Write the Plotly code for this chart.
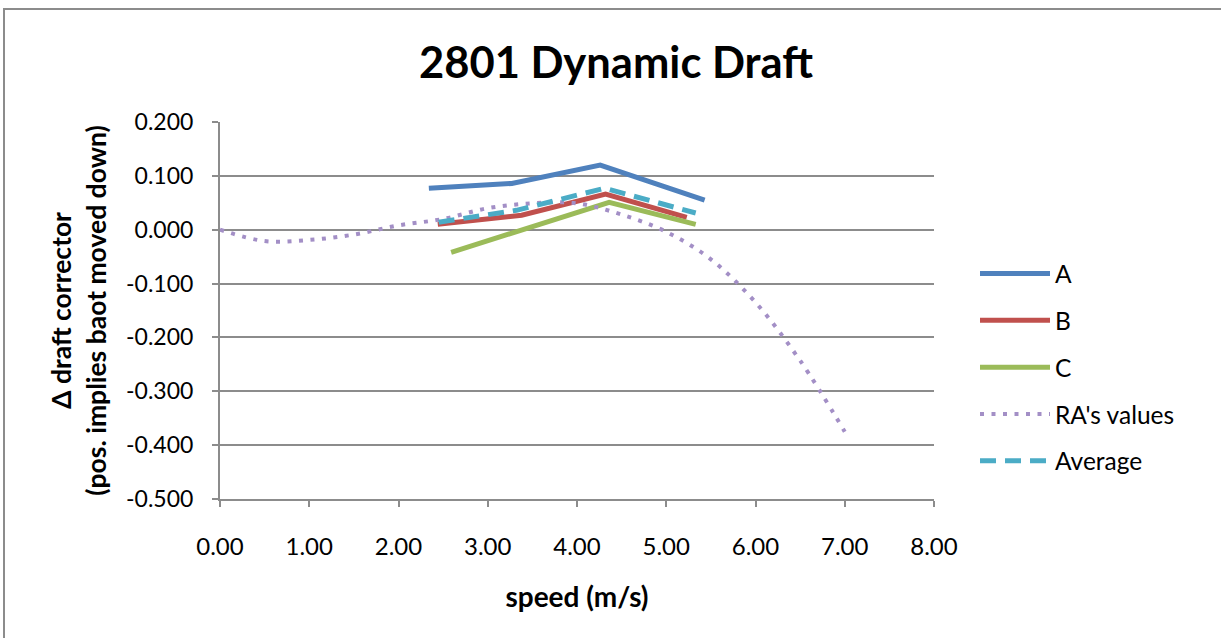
import plotly.graph_objects as go

# ---- data ----
speed_A = [2.34, 3.27, 4.26, 5.43]
val_A = [0.077, 0.086, 0.120, 0.055]

speed_B = [2.44, 3.38, 4.32, 5.23]
val_B = [0.010, 0.027, 0.066, 0.023]

speed_C = [2.59, 3.31, 4.36, 5.33]
val_C = [-0.042, -0.005, 0.051, 0.010]

speed_RA = [0.0, 0.5, 1.0, 1.5, 2.0, 2.5, 3.0, 3.5, 4.0, 4.5, 5.0, 5.5, 6.0, 6.5, 7.0]
val_RA = [0.000, -0.021, -0.019, -0.009, 0.008, 0.020, 0.040, 0.049, 0.049, 0.028,
          -0.004, -0.055, -0.135, -0.243, -0.375]

speed_avg = [2.45, 3.32, 4.31, 5.33]
val_avg = [0.014, 0.036, 0.077, 0.031]

x_ticks = [0, 1, 2, 3, 4, 5, 6, 7, 8]
y_ticks = [0.2, 0.1, 0.0, -0.1, -0.2, -0.3, -0.4, -0.5]

FONT = "Lato"

fig = go.Figure()
fig.add_trace(go.Scatter(x=speed_A, y=val_A, mode="lines", name="A",
                         line=dict(color="#4F81BD", width=5), legendgroup="a"))
fig.add_trace(go.Scatter(x=speed_B, y=val_B, mode="lines", name="B",
                         line=dict(color="#C0504D", width=5), legendgroup="b"))
fig.add_trace(go.Scatter(x=speed_C, y=val_C, mode="lines", name="C",
                         line=dict(color="#9BBB59", width=5), legendgroup="c"))
fig.add_trace(go.Scatter(x=speed_RA, y=val_RA, mode="lines", name="RA's values",
                         line=dict(color="#A38FC6", width=4, dash="4px,7.5px", shape="spline"),
                         legendgroup="d"))
fig.add_trace(go.Scatter(x=speed_avg, y=val_avg, mode="lines", name="Average",
                         line=dict(color="#4BACC6", width=5, dash="16px,9px"), legendgroup="e"))

W, H = 1221, 638
L, R, T, B = 220, 287, 122, 139
pw, ph = W - L - R, H - T - B

def px(xp):
    return (xp - L) / pw

def py(yp):
    return (H - B - yp) / ph

fig.update_layout(
    width=W, height=H,
    margin=dict(l=L, r=R, t=T, b=B, autoexpand=False),
    paper_bgcolor="white", plot_bgcolor="white",
    font=dict(family=FONT, color="black", size=22),
    title=dict(text="<b>2801 Dynamic Draft</b>", x=(421 + 811) / 2 / W, xanchor="center",
               y=1 - 63 / H, yanchor="middle", font=dict(size=43.5, family=FONT)),
    showlegend=True,
    legend=dict(x=px(975), xanchor="left", y=py(251), yanchor="top",
                font=dict(size=24.5, family=FONT), itemwidth=70,
                traceorder="grouped", tracegroupgap=12,
                bgcolor="rgba(0,0,0,0)"),
    xaxis=dict(range=[0, 8], tickvals=x_ticks, ticktext=[f"{v:.2f}" for v in x_ticks],
               showgrid=False, zeroline=False, showline=True, linecolor="#8C8C8C", linewidth=2,
               ticks="outside", ticklen=6, tickcolor="#8C8C8C", tickwidth=1.5,
               ticklabelstandoff=19, tickfont=dict(size=24),
               title=dict(text="<b>speed (m/s)</b>", font=dict(size=28), standoff=29)),
    yaxis=dict(range=[-0.5, 0.2], tickvals=y_ticks, ticktext=[f"{v:.3f}" for v in y_ticks],
               showgrid=True, gridcolor="#8C8C8C", gridwidth=2, zeroline=False,
               showline=True, linecolor="#8C8C8C", linewidth=2,
               ticks="outside", ticklen=6, tickcolor="#8C8C8C", tickwidth=1.5,
               ticklabelstandoff=14, tickfont=dict(size=23),
               title=dict(text="<b>Δ draft corrector<br>(pos. implies baot moved down)</b>",
                          font=dict(size=26.5), standoff=12)),
)

# outer chart frame (extends beyond the visible window like the source)
fig.add_shape(type="rect", xref="paper", yref="paper",
              x0=px(4), x1=px(W + 50), y0=py(H + 50), y1=py(9),
              line=dict(color="#8C8C8C", width=2), fillcolor="rgba(0,0,0,0)", layer="below")

fig.write_html("out.html", config={"displayModeBar": False},
               post_script="document.body.style.margin='0';")
